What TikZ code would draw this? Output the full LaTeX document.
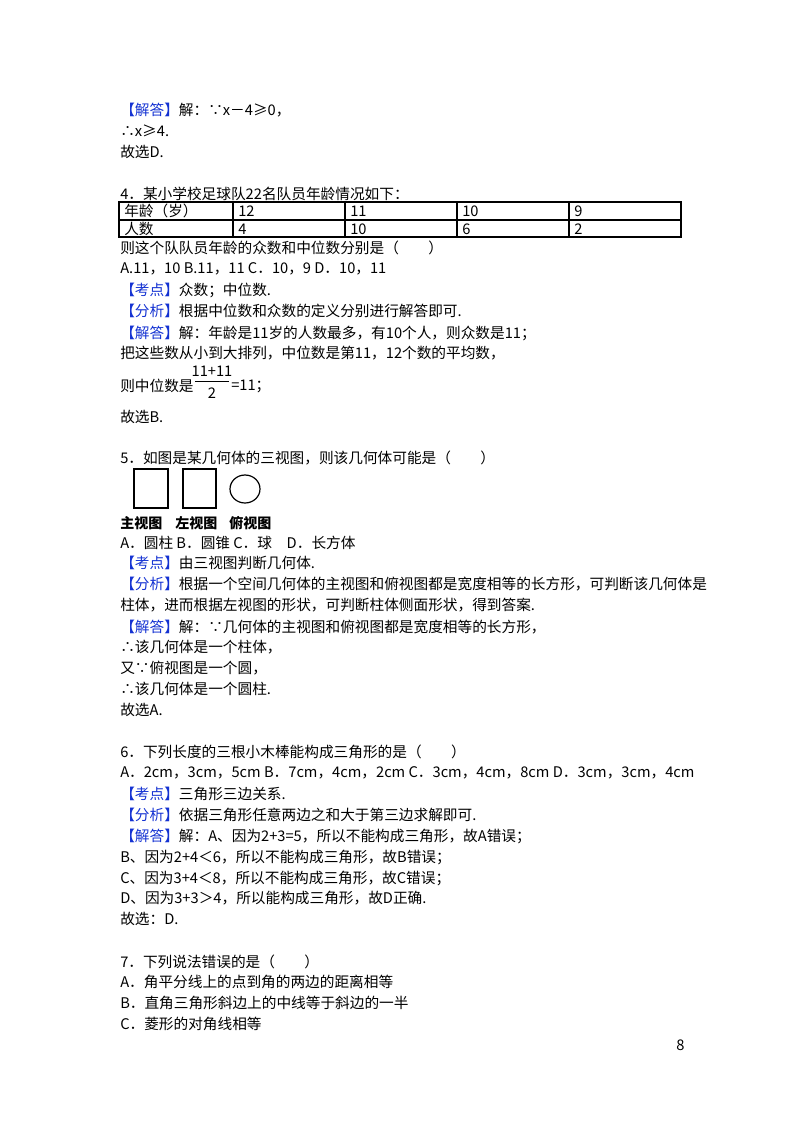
\documentclass[tikz,border=0pt]{standalone}
\usepackage{fontspec}
\setmainfont{Noto Sans CJK SC}
\definecolor{kblue}{RGB}{20,50,210}
\begin{document}
\begin{tikzpicture}[x=0.75pt,y=-0.75pt,
  ln/.style={anchor=west,inner sep=0pt,font=\fontsize{11}{13}\selectfont},
  cell/.style={anchor=west,inner sep=0pt,font=\fontsize{11}{13}\selectfont},
  lab/.style={anchor=west,inner sep=0pt,font=\fontsize{10.5}{12}\selectfont\bfseries}]
\useasboundingbox (0,0) rectangle (800,1132);
\newcommand{\tg}[1]{\textcolor{kblue}{【#1】}}
\node[ln] (l1) at (120,110) {\tg{解答}解：∵x－4≥0，};
\node[ln] (l2) at (120,131) {∴x≥4.};
\node[ln] (l3) at (120,152) {故选D.};
\node[ln] (q4) at (120,194) {4．某小学校足球队22名队员年龄情况如下：};
\draw[line width=1.2pt] (119,202) rectangle (681,237);
\draw[line width=0.8pt] (119,220) -- (681,220);
\foreach \xx in {233,345,457,569} \draw[line width=0.8pt] (\xx,202) -- (\xx,237);
\node[cell] (c11) at (124,211) {年龄（岁）};
\node[cell] (c12) at (238,211) {12};
\node[cell] (c13) at (350,211) {11};
\node[cell] (c14) at (462,211) {10};
\node[cell] (c15) at (574,211) {9};
\node[cell] (c21) at (124,229) {人数};
\node[cell] (c22) at (238,229) {4};
\node[cell] (c23) at (350,229) {10};
\node[cell] (c24) at (462,229) {6};
\node[cell] (c25) at (574,229) {2};
\node[ln] (l5) at (120,248) {则这个队队员年龄的众数和中位数分别是（\quad\quad）};
\node[ln] (l6) at (120,269) {A.11，10 B.11，11 C．10，9 D．10，11};
\node[ln] (l7) at (120,290) {\tg{考点}众数；中位数.};
\node[ln] (l8) at (120,311) {\tg{分析}根据中位数和众数的定义分别进行解答即可.};
\node[ln] (l9) at (120,333) {\tg{解答}解：年龄是11岁的人数最多，有10个人，则众数是11；};
\node[ln] (l10) at (120,353) {把这些数从小到大排列，中位数是第11，12个数的平均数，};
\node[ln] (l11) at (120,386) {则中位数是};
\node[inner sep=0pt,font=\fontsize{11}{13}\selectfont] (fn) at (212,371) {11+11};
\draw[line width=0.6pt] (195,381) -- (229,381);
\node[inner sep=0pt,font=\fontsize{11}{13}\selectfont] (fd) at (212,393) {2};
\node[ln] (l12) at (231,386) {=11；};
\node[ln] (l13) at (120,417) {故选B.};
\node[ln] (q5) at (120,458) {5．如图是某几何体的三视图，则该几何体可能是（\quad\quad）};
\draw[line width=0.9pt] (134,469) rectangle (168,508);
\draw[line width=0.9pt] (183,469) rectangle (216,508);
\draw[line width=0.9pt] (245,489) ellipse [x radius=15, y radius=14];
\node[lab] (v1) at (120,523) {主视图};
\node[lab] (v2) at (175,523) {左视图};
\node[lab] (v3) at (229,523) {俯视图};
\node[ln] (m1) at (120,543) {A．圆柱\ B．圆锥\ C．球\quad D．长方体};
\node[ln] (m2) at (120,563) {\tg{考点}由三视图判断几何体.};
\node[ln] (m3) at (120,584) {\tg{分析}根据一个空间几何体的主视图和俯视图都是宽度相等的长方形，可判断该几何体是};
\node[ln] (m4) at (120,605) {柱体，进而根据左视图的形状，可判断柱体侧面形状，得到答案.};
\node[ln] (m5) at (120,627) {\tg{解答}解：∵几何体的主视图和俯视图都是宽度相等的长方形，};
\node[ln] (m6) at (120,647) {∴该几何体是一个柱体，};
\node[ln] (m7) at (120,668) {又∵俯视图是一个圆，};
\node[ln] (m8) at (120,689) {∴该几何体是一个圆柱.};
\node[ln] (m9) at (120,710) {故选A.};
\node[ln] (q6) at (120,752) {6．下列长度的三根小木棒能构成三角形的是（\quad\quad）};
\node[ln] (n1) at (120,773) {A．2cm，3cm，5cm B．7cm，4cm，2cm C．3cm，4cm，8cm D．3cm，3cm，4cm};
\node[ln] (n2) at (120,794) {\tg{考点}三角形三边关系.};
\node[ln] (n3) at (120,815) {\tg{分析}依据三角形任意两边之和大于第三边求解即可.};
\node[ln] (n4) at (120,836) {\tg{解答}解：A、因为2+3=5，所以不能构成三角形，故A错误；};
\node[ln] (n5) at (120,857) {B、因为2+4＜6，所以不能构成三角形，故B错误；};
\node[ln] (n6) at (120,878) {C、因为3+4＜8，所以不能构成三角形，故C错误；};
\node[ln] (n7) at (120,898) {D、因为3+3＞4，所以能构成三角形，故D正确.};
\node[ln] (n8) at (120,919) {故选：D.};
\node[ln] (q7) at (120,962) {7．下列说法错误的是（\quad\quad）};
\node[ln] (o1) at (120,982) {A．角平分线上的点到角的两边的距离相等};
\node[ln] (o2) at (120,1003) {B．直角三角形斜边上的中线等于斜边的一半};
\node[ln] (o3) at (120,1024) {C．菱形的对角线相等};
\node[ln] (pg) at (676,1045) {8};
\end{tikzpicture}
\end{document}
